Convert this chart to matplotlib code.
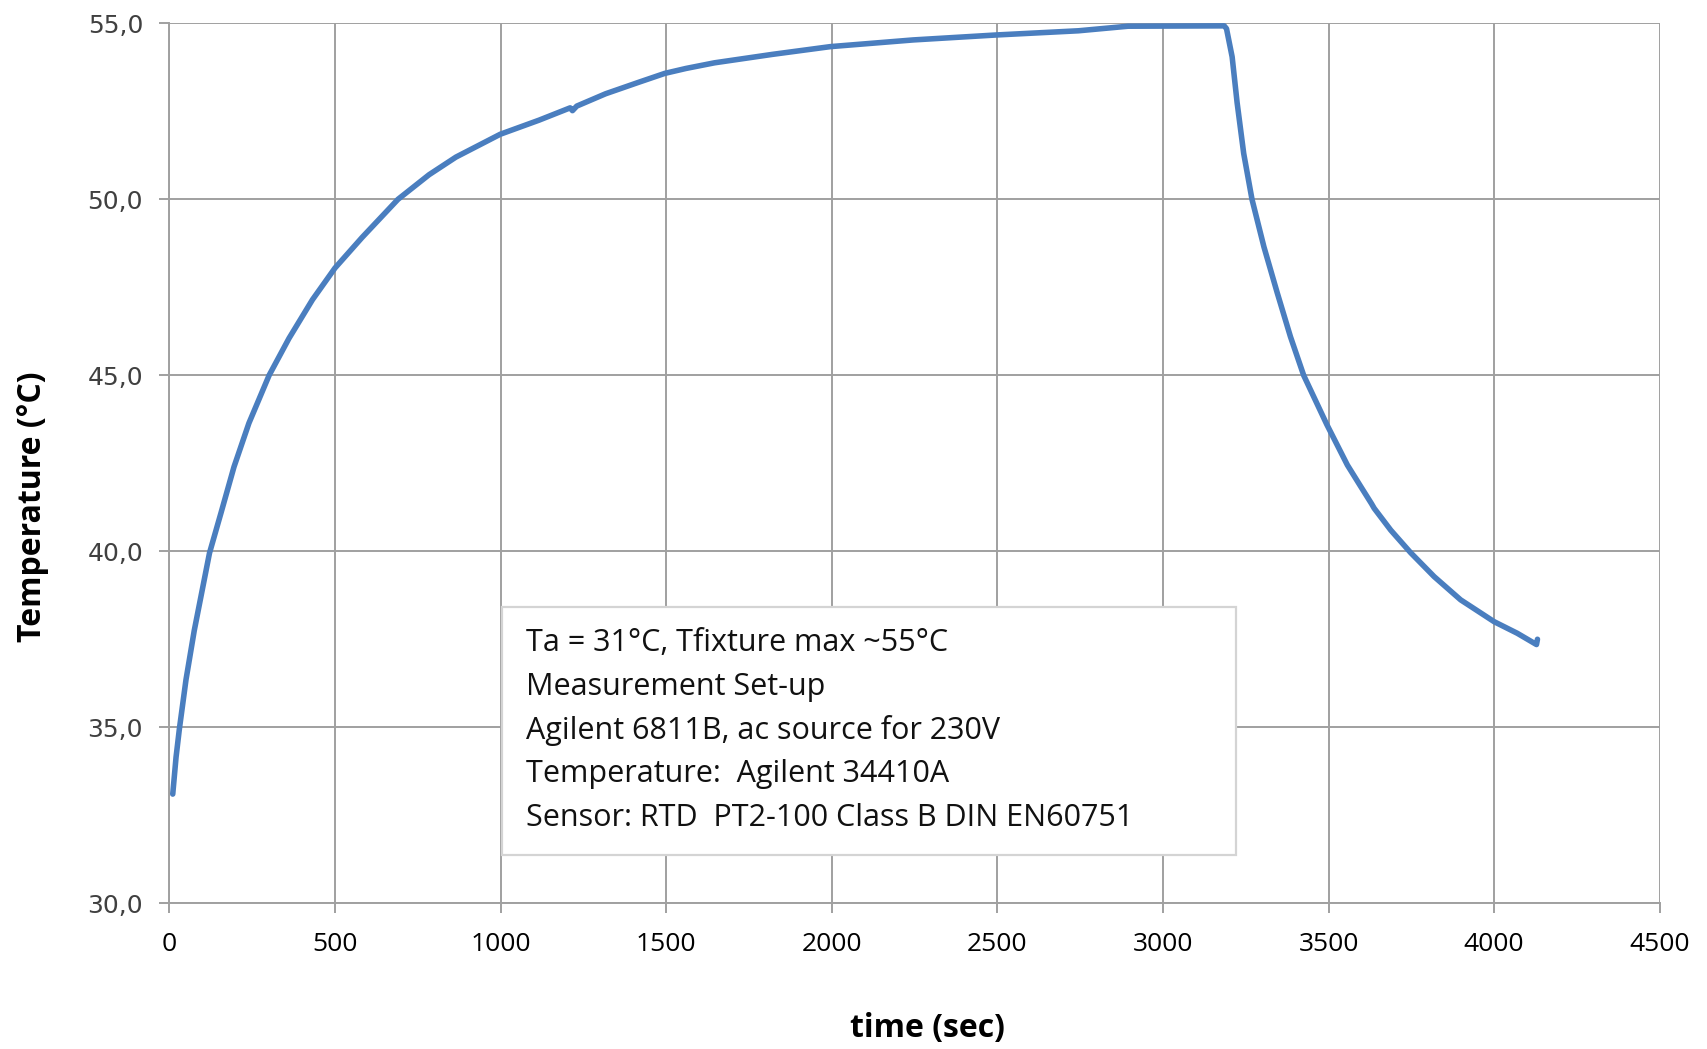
"""
plot.py - fixture heat-up / cool-down curve.
"""

import matplotlib
matplotlib.use("Agg")
import matplotlib.pyplot as plt
from matplotlib.patches import Rectangle

# time (sec) and fixture temperature (°C)
time_s = [10, 20, 30, 50, 75, 121, 156, 195, 240, 301, 361, 432, 500, 582, 690,
          784, 865, 999, 1116, 1210, 1217, 1230, 1317, 1418, 1496, 1560, 1646,
          1821, 1996, 2246, 2495, 2745, 2895, 3185, 3192, 3209, 3224, 3244,
          3269, 3305, 3345, 3385, 3425, 3495, 3557, 3598, 3630, 3638, 3688,
          3748, 3819, 3899, 4000, 4070, 4128, 4131]
temp_c = [33.1, 34.15, 34.95, 36.35, 37.75, 39.95, 41.1, 42.4, 43.64, 45.0,
          46.05, 47.15, 48.05, 48.92, 50.0, 50.7, 51.2, 51.85, 52.25, 52.6,
          52.52, 52.65, 53.0, 53.33, 53.58, 53.72, 53.88, 54.12, 54.34, 54.53,
          54.67, 54.79, 54.92, 54.93, 54.85, 54.05, 52.75, 51.3, 50.0, 48.65,
          47.35, 46.1, 45.0, 43.6, 42.45, 41.83, 41.35, 41.22, 40.6, 39.96,
          39.28, 38.62, 38.0, 37.67, 37.35, 37.5]

x_ticks = [0, 500, 1000, 1500, 2000, 2500, 3000, 3500, 4000, 4500]
y_ticks = [30, 35, 40, 45, 50, 55]

note_lines = [
    "Ta = 31°C, Tfixture max ~55°C",
    "Measurement Set-up",
    "Agilent 6811B, ac source for 230V",
    "Temperature:  Agilent 34410A",
    "Sensor: RTD  PT2-100 Class B DIN EN60751",
]

GRID = "#A0A0A0"
LINE = "#4A7EBF"
FONT = ["Open Sans", "DejaVu Sans"]

plt.rcParams["font.family"] = FONT

fig = plt.figure(figsize=(17.08, 10.49), dpi=100)
ax = fig.add_axes([0.0992, 0.139, 0.8725, 0.8387])

ax.plot(time_s, temp_c, color=LINE, linewidth=4.0, solid_capstyle="round",
        solid_joinstyle="round", zorder=3)

ax.set_xlim(0, 4500)
ax.set_ylim(30, 55)
ax.set_xticks(x_ticks)
ax.set_yticks(y_ticks)
ax.set_xticklabels([str(v) for v in x_ticks], fontsize=19)
ax.set_yticklabels([f"{v:.1f}".replace(".", ",") for v in y_ticks], fontsize=18,
                   family="DejaVu Sans", color="#404040")

ax.grid(True, color=GRID, linewidth=1.4, zorder=1)
for side in ["top", "right"]:
    ax.spines[side].set_visible(False)
for side in ["left", "bottom"]:
    ax.spines[side].set_color(GRID)
    ax.spines[side].set_linewidth(1.4)
ax.tick_params(axis="both", direction="out", length=7, width=1.4, color=GRID)
ax.tick_params(axis="x", pad=14)
ax.tick_params(axis="y", pad=12)

ax.set_xlabel("time (sec)", fontsize=23, fontweight="bold")
ax.set_ylabel("Temperature (°C)", fontsize=23, fontweight="bold")
ax.xaxis.set_label_coords(0.5086, -0.143)
ax.xaxis.label.set_va("center")
ax.yaxis.set_label_coords(-0.0916, 0.451)
ax.yaxis.label.set_va("center")

# annotation box
ax.add_patch(Rectangle((0.2233, 0.0546), 0.4921, 0.2819, transform=ax.transAxes,
                       facecolor="white", edgecolor="#D4D4D4", linewidth=1.6, zorder=4))
for i, line in enumerate(note_lines):
    ax.text(0.2395, 0.2955 - i * 0.0496, line, transform=ax.transAxes,
            fontsize=22, va="center", ha="left", color="#111111", zorder=5)

fig.savefig("out.png", dpi=100, facecolor="white")
